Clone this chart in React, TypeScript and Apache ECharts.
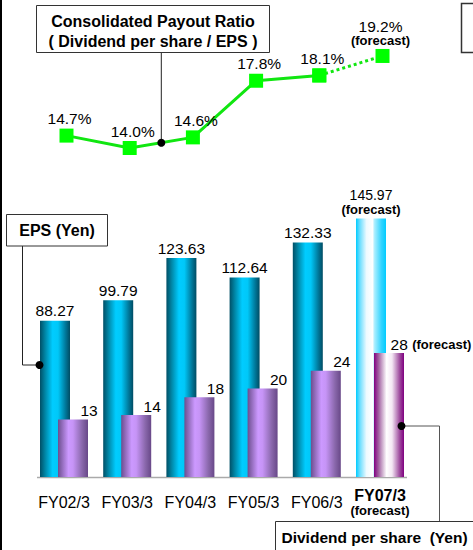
import React, { useEffect, useRef } from "react";
import * as echarts from "echarts";

const categories = ["FY02/3", "FY03/3", "FY04/3", "FY05/3", "FY06/3", "FY07/3"];
const forecastIndex = 5;
const epsValues = [88.27, 99.79, 123.63, 112.64, 132.33, 145.97];
const dividendValues = [13, 14, 18, 20, 24, 28];
const payoutRatio = [14.7, 14.0, 14.6, 17.8, 18.1, 19.2];

const FONT = "Arial, 'Liberation Sans', sans-serif";

const grad = (stops: [number, string][]) =>
  new echarts.graphic.LinearGradient(0, 0, 1, 0, stops.map(([offset, color]) => ({ offset, color })));

const epsGrad = () =>
  grad([
    [0, "#004f66"],
    [0.18, "#0088a8"],
    [0.42, "#00ccff"],
    [0.6, "#00c8f8"],
    [0.85, "#00789a"],
    [1, "#004c63"],
  ]);
const epsForecastGrad = () =>
  grad([
    [0, "#00ccff"],
    [0.12, "#66ddff"],
    [0.35, "#eefaff"],
    [0.55, "#ffffff"],
    [0.62, "#aaeeff"],
    [0.85, "#33d4ff"],
    [1, "#00ccff"],
  ]);
const divGrad = () =>
  grad([
    [0, "#6c4e8e"],
    [0.35, "#cc99ff"],
    [0.5, "#c694f6"],
    [0.8, "#8a68ac"],
    [1, "#684888"],
  ]);
const divForecastGrad = () =>
  grad([
    [0, "#800080"],
    [0.15, "#a060a0"],
    [0.42, "#ffffff"],
    [0.6, "#f4e8f4"],
    [0.85, "#a050a0"],
    [1, "#800080"],
  ]);

export default function App() {
  const ref = useRef<HTMLDivElement>(null);

  useEffect(() => {
    if (!ref.current) return;
    const chart = echarts.init(ref.current, undefined, { renderer: "svg" });

    const barGrid = { left: 32.4, top: 193.6, width: 379.2, height: 283.4 };
    const lineGrid = { left: 34.9, top: 41.8, width: 379.2, height: 123.9 };

    const option: any = {
      animation: false,
      textStyle: { fontFamily: FONT },
      grid: [barGrid, lineGrid],
      xAxis: [
        {
          type: "category",
          gridIndex: 0,
          data: categories,
          axisLine: { show: false },
          axisTick: { show: false },
          splitLine: { show: false },
          axisLabel: {
            interval: 0,
            margin: 25,
            verticalAlign: "middle",
            color: "#000",
            fontSize: 16,
            fontFamily: FONT,
            formatter: (v: string, i: number) =>
              i === forecastIndex ? `{b|${v}}\n{f|(forecast)}` : v,
            rich: {
              b: { fontWeight: "bold", fontSize: 16, lineHeight: 16, fontFamily: FONT, color: "#000" },
              f: { fontWeight: "bold", fontSize: 13, lineHeight: 13, fontFamily: FONT, color: "#000" },
            },
          },
        },
        { type: "category", gridIndex: 1, data: categories, show: false },
      ],
      yAxis: [
        { type: "value", gridIndex: 0, min: 0, max: 160, show: false, splitLine: { show: false } },
        { type: "value", gridIndex: 0, min: 0, max: 64, show: false, splitLine: { show: false } },
        { type: "value", gridIndex: 1, min: 13, max: 20, show: false, splitLine: { show: false } },
      ],
      series: [
        {
          name: "EPS",
          type: "bar",
          xAxisIndex: 0,
          yAxisIndex: 0,
          barWidth: 30,
          barGap: "-40%",
          data: epsValues.map((v, i) => ({
            value: v,
            itemStyle: { color: i === forecastIndex ? epsForecastGrad() : epsGrad() },
          })),
          label: {
            show: true,
            position: "top",
            distance: 2,
            color: "#000",
            fontSize: 15.5,
            fontFamily: FONT,
            formatter: (p: any) =>
              p.dataIndex === forecastIndex
                ? `{v|${p.value.toFixed(2)}}\n{f|(forecast)}`
                : p.value.toFixed(2),
            rich: {
              v: { fontSize: 14, lineHeight: 15, fontFamily: FONT, color: "#000" },
              f: { fontSize: 13, fontWeight: "bold", lineHeight: 14, fontFamily: FONT, color: "#000" },
            },
          },
        },
        {
          name: "Dividend",
          type: "bar",
          xAxisIndex: 0,
          yAxisIndex: 1,
          barWidth: 30,
          barGap: "-40%",
          z: 3,
          data: dividendValues.map((v, i) =>
            i === forecastIndex
              ? { value: v, itemStyle: { color: divForecastGrad() }, label: { offset: [42, 0] } }
              : { value: v, itemStyle: { color: divGrad() } }
          ),
          label: {
            show: true,
            position: "top",
            distance: 1,
            offset: [16, 0],
            color: "#000",
            fontSize: 15.5,
            fontFamily: FONT,
            formatter: (p: any) =>
              p.dataIndex === forecastIndex ? `{v|${p.value}} {f|(forecast)}` : String(p.value),
            rich: {
              v: { fontSize: 15.5, fontFamily: FONT, color: "#000" },
              f: { fontSize: 13, fontWeight: "bold", fontFamily: FONT, color: "#000" },
            },
          },
        },
        {
          name: "Payout",
          type: "line",
          xAxisIndex: 1,
          yAxisIndex: 2,
          data: payoutRatio.map((v, i) => (i < forecastIndex ? v : "-")),
          symbol: "rect",
          symbolSize: 14,
          itemStyle: { color: "#00ff00" },
          lineStyle: { color: "#11e611", width: 3 },
          z: 4,
          label: {
            show: true,
            position: "top",
            distance: 2,
            offset: [3, 0],
            color: "#000",
            fontSize: 15.5,
            fontFamily: FONT,
            formatter: (p: any) => `${p.value.toFixed(1)}%`,
          },
        },
        {
          name: "PayoutForecast",
          type: "line",
          xAxisIndex: 1,
          yAxisIndex: 2,
          data: payoutRatio.map((v, i) => (i >= forecastIndex - 1 ? v : "-")),
          symbol: "rect",
          symbolSize: 14,
          itemStyle: { color: "#00ff00" },
          lineStyle: { color: "#11e611", width: 3, type: [3, 3] },
          z: 3,
          label: {
            show: true,
            position: "top",
            distance: 1,
            offset: [-2, 0],
            color: "#000",
            fontFamily: FONT,
            formatter: (p: any) =>
              p.dataIndex === forecastIndex ? `{v|${p.value.toFixed(1)}%}\n{f|(forecast)}` : "",
            rich: {
              v: { fontSize: 15.5, lineHeight: 15, fontFamily: FONT, color: "#000" },
              f: { fontSize: 13, fontWeight: "bold", lineHeight: 14, fontFamily: FONT, color: "#000" },
            },
          },
        },
      ],
    };

    chart.setOption(option);

    const p1 = chart.convertToPixel({ seriesIndex: 2 }, [1, payoutRatio[1]]) as number[];
    const p2 = chart.convertToPixel({ seriesIndex: 2 }, [2, payoutRatio[2]]) as number[];
    const mid = [(p1[0] + p2[0]) / 2, (p1[1] + p2[1]) / 2];

    const boxText = (x: number, y: number, text: string, align: string = "center", size = 16) => ({
      type: "text",
      x,
      y,
      style: {
        text,
        fill: "#000",
        font: `bold ${size}px ${FONT}`,
        align,
        verticalAlign: "middle",
      },
      z: 20,
    });

    chart.setOption({
      graphic: [
        { type: "rect", shape: { x: 0, y: 0, width: 2, height: 550 }, style: { fill: "#000" }, z: 20 },
        {
          type: "line",
          shape: { x1: 37, y1: 477.5, x2: 407, y2: 477.5 },
          style: { stroke: "#aaaaaa", lineWidth: 1.5 },
          z: 1,
        },
        {
          type: "rect",
          shape: { x: 36.5, y: 5.5, width: 233, height: 47 },
          style: { fill: "#fff", stroke: "#333", lineWidth: 1 },
          z: 19,
        },
        boxText(153, 21.7, "Consolidated Payout Ratio"),
        boxText(153, 41.7, "( Dividend per share / EPS )"),
        {
          type: "line",
          shape: { x1: mid[0], y1: 52.5, x2: mid[0], y2: mid[1] },
          style: { stroke: "#222", lineWidth: 1 },
          z: 18,
        },
        { type: "circle", shape: { cx: mid[0], cy: mid[1], r: 4 }, style: { fill: "#000" }, z: 21 },
        {
          type: "rect",
          shape: { x: 461.5, y: 3.5, width: 30, height: 49 },
          style: { fill: "#fff", stroke: "#333", lineWidth: 1.5 },
          z: 19,
        },
        {
          type: "rect",
          shape: { x: 6.5, y: 214.5, width: 101, height: 31.5 },
          style: { fill: "#fff", stroke: "#333", lineWidth: 1 },
          z: 19,
        },
        boxText(57, 230.7, "EPS (Yen)"),
        {
          type: "polyline",
          shape: { points: [[22.5, 246], [22.5, 365], [39.5, 365]] },
          style: { stroke: "#222", lineWidth: 1, fill: null },
          z: 18,
        },
        { type: "circle", shape: { cx: 39.5, cy: 365, r: 4 }, style: { fill: "#000" }, z: 21 },
        {
          type: "rect",
          shape: { x: 275.5, y: 521.5, width: 220, height: 40 },
          style: { fill: "#fff", stroke: "#333", lineWidth: 1 },
          z: 19,
        },
        boxText(281.5, 537, "Dividend per share  (Yen)", "left", 15.5),
        {
          type: "polyline",
          shape: { points: [[401.5, 426], [439.5, 426], [439.5, 521.5]] },
          style: { stroke: "#555", lineWidth: 1, fill: null },
          z: 18,
        },
        { type: "circle", shape: { cx: 401.5, cy: 426, r: 4 }, style: { fill: "#000" }, z: 21 },
      ],
    });

    return () => chart.dispose();
  }, []);

  return (
    <div
      ref={ref}
      style={{ position: "absolute", left: 0, top: 0, width: 473, height: 550, background: "#fff" }}
    />
  );
}
